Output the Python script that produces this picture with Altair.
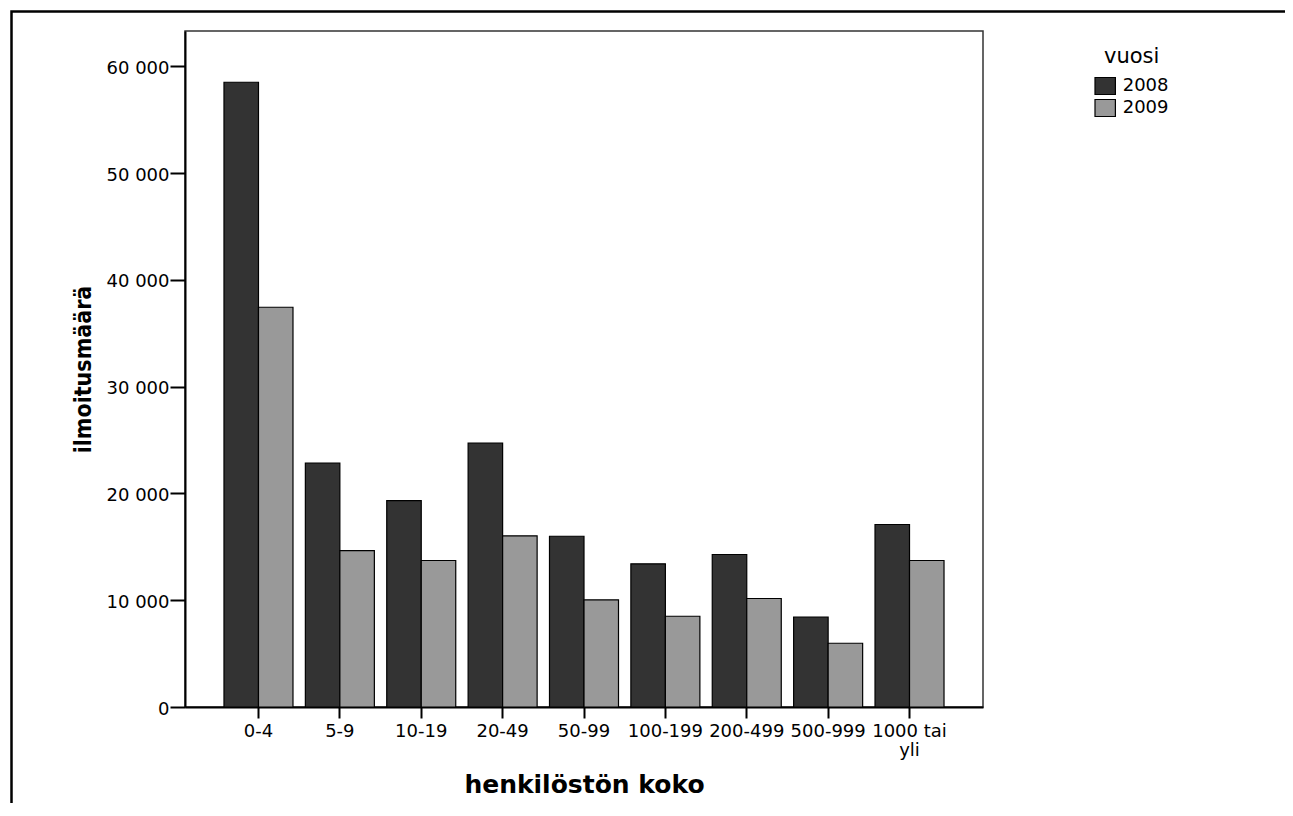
import altair as alt
import pandas as pd

categories = ["0-4", "5-9", "10-19", "20-49", "50-99", "100-199", "200-499", "500-999", "1000 tai yli"]
years = ["2008", "2009"]
values_2008 = [58500, 22830, 19330, 24700, 15990, 13410, 14280, 8410, 17090]
values_2009 = [37430, 14650, 13720, 16030, 10040, 8500, 10160, 5970, 13720]
y_ticks = [0, 10000, 20000, 30000, 40000, 50000, 60000]
colors = ["#333333", "#999999"]

rows = []
for c, a, b in zip(categories, values_2008, values_2009):
    rows.append({"koko": c, "vuosi": years[0], "maara": a})
    rows.append({"koko": c, "vuosi": years[1], "maara": b})
df = pd.DataFrame(rows)

W, H = 798, 676
FONT = "DejaVu Sans"

bars = alt.Chart(df).mark_bar(stroke="black", strokeWidth=1.2).encode(
    x=alt.X(
        "koko:N",
        sort=categories,
        scale=alt.Scale(paddingInner=0.152, paddingOuter=0.479),
        axis=alt.Axis(
            title="henkilöstön koko",
            labelAngle=0,
            labelExpr="datum.label == '1000 tai yli' ? ['1000 tai', 'yli'] : datum.label",
            labelFont=FONT,
            labelFontSize=18,
            labelColor="black",
            labelPadding=4,
            labelLineHeight=19,
            tickSize=11,
            tickWidth=2,
            tickColor="black",
            domainColor="black",
            domainWidth=2,
            titleFont=FONT,
            titleFontSize=25,
            titleFontWeight="bold",
            titleColor="black",
            titleX=399,
            titleY=85,
            titleAlign="center",
            titleBaseline="alphabetic",
        ),
    ),
    xOffset=alt.XOffset("vuosi:N", sort=years, scale=alt.Scale(paddingInner=0, paddingOuter=0)),
    y=alt.Y(
        "maara:Q",
        scale=alt.Scale(domain=[0, 63300], nice=False, zero=True),
        axis=alt.Axis(
            title="ilmoitusmäärä",
            values=y_ticks,
            labelExpr="replace(format(datum.value, ','), ',', ' ')",
            labelFont=FONT,
            labelFontSize=18,
            labelColor="black",
            labelPadding=1,
            labelOffset=2,
            tickSize=15,
            tickWidth=2,
            tickColor="black",
            domainColor="black",
            domainWidth=2,
            grid=False,
            titleFont="Liberation Sans Narrow, DejaVu Sans Condensed, sans-serif",
            titleFontSize=23,
            titleFontWeight="bold",
            titleColor="black",
            titleAngle=270,
            titleX=-95,
            titleY=338,
            titleAlign="center",
            titleBaseline="alphabetic",
        ),
    ),
    color=alt.Color(
        "vuosi:N",
        sort=years,
        scale=alt.Scale(domain=years, range=colors),
        legend=alt.Legend(
            title="vuosi",
            orient="none",
            legendX=910.7,
            legendY=14.5,
            titleFont=FONT,
            titleFontSize=21,
            titleFontWeight="normal",
            titleColor="black",
            titleAnchor="middle",
            titlePadding=10,
            labelFont=FONT,
            labelFontSize=18,
            labelColor="black",
            labelOffset=8,
            rowPadding=-1,
            symbolType="M-1.2,-1H1.2V1H-1.2Z",
            symbolSize=289,
            symbolStrokeColor="black",
            symbolStrokeWidth=1.2,
            symbolOpacity=1,
        ),
    ),
)

frame = alt.Chart(pd.DataFrame({"k": [0]})).mark_rect(
    fill="transparent", stroke="black", strokeWidth=2.5
).encode(
    x=alt.value(-173.5),
    x2=alt.value(1500),
    y=alt.value(-19.5),
    y2=alt.value(1000),
)

chart = alt.layer(bars, frame).properties(
    width=W,
    height=H,
    autosize=alt.AutoSizeParams(type="none"),
    padding={"left": 177, "top": 23, "right": 302, "bottom": 96},
).configure(
    font=FONT, background="white"
).configure_view(
    stroke="#333333", strokeWidth=1.5
)

chart.save("out.html", embed_options={"renderer": "svg", "actions": False})
